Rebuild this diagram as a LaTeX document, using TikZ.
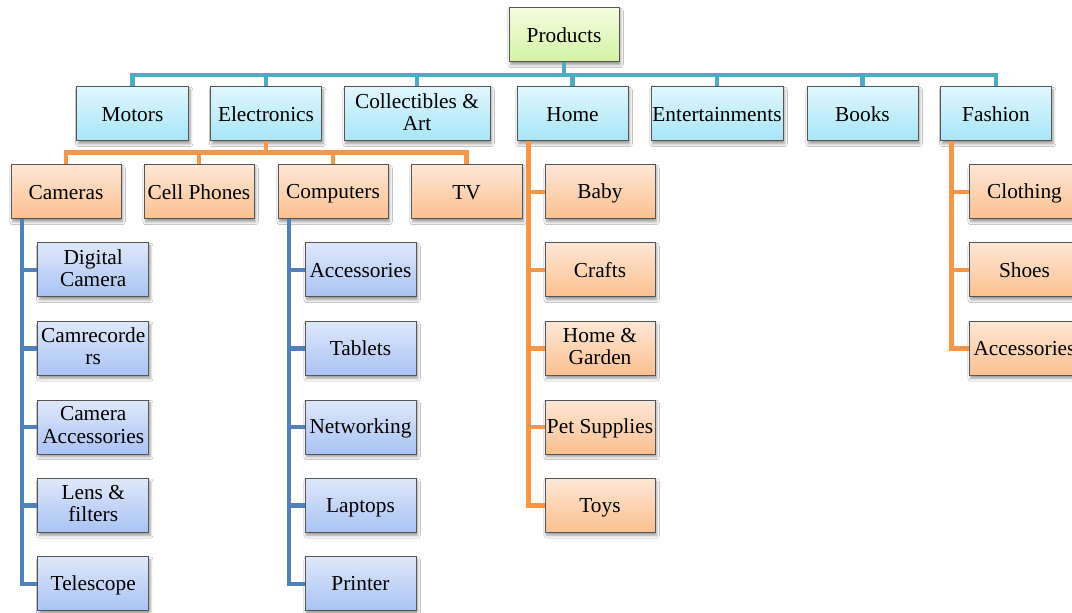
\documentclass[tikz,border=0pt]{standalone}
\usepackage{fontspec}
\setmainfont{Liberation Serif}
\usetikzlibrary{shadows.blur}
\definecolor{lteal}{HTML}{4BACC6}
\definecolor{lorange}{HTML}{F79646}
\definecolor{lblue}{HTML}{4F81BD}
\definecolor{boxdraw}{HTML}{555555}
\definecolor{gtop}{HTML}{F4FCE0}
\definecolor{gbot}{HTML}{D3F3A4}
\definecolor{ctop}{HTML}{E0F7FD}
\definecolor{cbot}{HTML}{A6E5F8}
\definecolor{otop}{HTML}{FDE7D6}
\definecolor{obot}{HTML}{FBC08E}
\definecolor{btop}{HTML}{DFE8FA}
\definecolor{bbot}{HTML}{A8C3F3}
\tikzset{
  box/.style={draw=boxdraw, line width=0.75pt, minimum height=40.5pt,
    minimum width=83pt, inner sep=1pt, align=center,
    font=\fontsize{16pt}{16.6pt}\selectfont,
    execute at begin node={\rule{0pt}{13.9pt}},
    execute at end node={\rule[-3.1pt]{0pt}{0pt}},
    blur shadow={shadow xshift=1.2pt, shadow yshift=-2.2pt,
      shadow blur radius=2pt, shadow blur steps=6, shadow opacity=40}},
  rootbox/.style={box, top color=gtop, bottom color=gbot},
  catbox/.style={box, top color=ctop, bottom color=cbot},
  subbox/.style={box, top color=otop, bottom color=obot},
  leafbox/.style={box, top color=btop, bottom color=bbot},
  tealline/.style={draw=lteal, line width=3.1pt},
  orangeline/.style={draw=lorange, line width=3.1pt},
  blueline/.style={draw=lblue, line width=3.1pt},
}
\begin{document}
\begin{tikzpicture}[x=0.75pt, y=-0.75pt]
\useasboundingbox (0,0) rectangle (1072,613);
\clip (0,0) rectangle (1072,613);
\fill[white] (0,0) rectangle (1072,613);

% root
\node[rootbox, minimum width=82.5pt] (P) at (564,35) {Products};

% level 1
\node[catbox, minimum width=84pt]   (mot) at (132.5,114) {Motors};
\node[catbox, minimum width=83.25pt] (ele) at (266,114) {Electronics};
\node[catbox, minimum width=109.5pt] (col) at (417,114) {Collectibles \&\\Art};
\node[catbox, minimum width=83.25pt] (hom) at (572.5,114) {Home};
\node[catbox, minimum width=99pt]   (ent) at (717,114) {Entertainments};
\node[catbox, minimum width=83.25pt] (boo) at (862.5,114) {Books};
\node[catbox, minimum width=83.25pt] (fas) at (996,114) {Fashion};

% level 2 (electronics)
\node[subbox, minimum width=82.5pt] (cam) at (66,192) {Cameras};
\node[subbox, minimum width=82.5pt] (cel) at (199,192) {Cell Phones};
\node[subbox, minimum width=82.5pt] (com) at (333,192) {Computers};
\node[subbox, minimum width=83.25pt] (tv) at (466.5,192) {TV};

% home children
\node[subbox, minimum width=82.5pt] (baby) at (600,192) {Baby};
\node[subbox, minimum width=82.5pt] (crafts) at (600,270) {Crafts};
\node[subbox, minimum width=82.5pt] (hg) at (600,348.5) {Home \&\\Garden};
\node[subbox, minimum width=82.5pt] (pet) at (600,427) {Pet Supplies};
\node[subbox, minimum width=82.5pt] (toys) at (600,505.5) {Toys};

% fashion children
\node[subbox, minimum width=83.25pt] (clo) at (1024.5,192) {Clothing};
\node[subbox, minimum width=83.25pt] (sho) at (1024.5,270) {Shoes};
\node[subbox, minimum width=83.25pt] (fac) at (1024.5,348.5) {Accessories};

% camera children
\node[leafbox, minimum width=83.25pt] (dig) at (93.2,270) {Digital\\Camera};
\node[leafbox, minimum width=83.25pt] (crc) at (93.2,348.5) {Camrecorde\\rs};
\node[leafbox, minimum width=83.25pt] (cac) at (93.2,427) {Camera\\Accessories};
\node[leafbox, minimum width=83.25pt] (len) at (93.2,505.5) {Lens \&\\filters};
\node[leafbox, minimum width=83.25pt] (tel) at (93.2,583.7) {Telescope};

% computer children
\node[leafbox, minimum width=83.25pt] (acc) at (360.5,270) {Accessories};
\node[leafbox, minimum width=83.25pt] (tab) at (360.5,348.5) {Tablets};
\node[leafbox, minimum width=83.25pt] (net) at (360.5,427) {Networking};
\node[leafbox, minimum width=83.25pt] (lap) at (360.5,505.5) {Laptops};
\node[leafbox, minimum width=83.25pt] (pri) at (360.5,583.7) {Printer};

% connectors
\foreach \n in {mot,ele,col,hom,ent,boo,fas}
  \draw[tealline] (P.south) |- ([yshift=8.8pt]\n.north) -- (\n.north);
\foreach \n in {cam,cel,com,tv}
  \draw[orangeline] (ele.south) |- ([yshift=9pt]\n.north) -- (\n.north);
\foreach \n in {baby,crafts,hg,pet,toys}
  \draw[orangeline] ([xshift=9pt]hom.south west) |- (\n.west);
\foreach \n in {clo,sho,fac}
  \draw[orangeline] ([xshift=8.6pt]fas.south west) |- (\n.west);
\foreach \n in {dig,crc,cac,len,tel}
  \draw[blueline] ([xshift=8.3pt]cam.south west) |- (\n.west);
\foreach \n in {acc,tab,net,lap,pri}
  \draw[blueline] ([xshift=8.6pt]com.south west) |- (\n.west);
\end{tikzpicture}
\end{document}
